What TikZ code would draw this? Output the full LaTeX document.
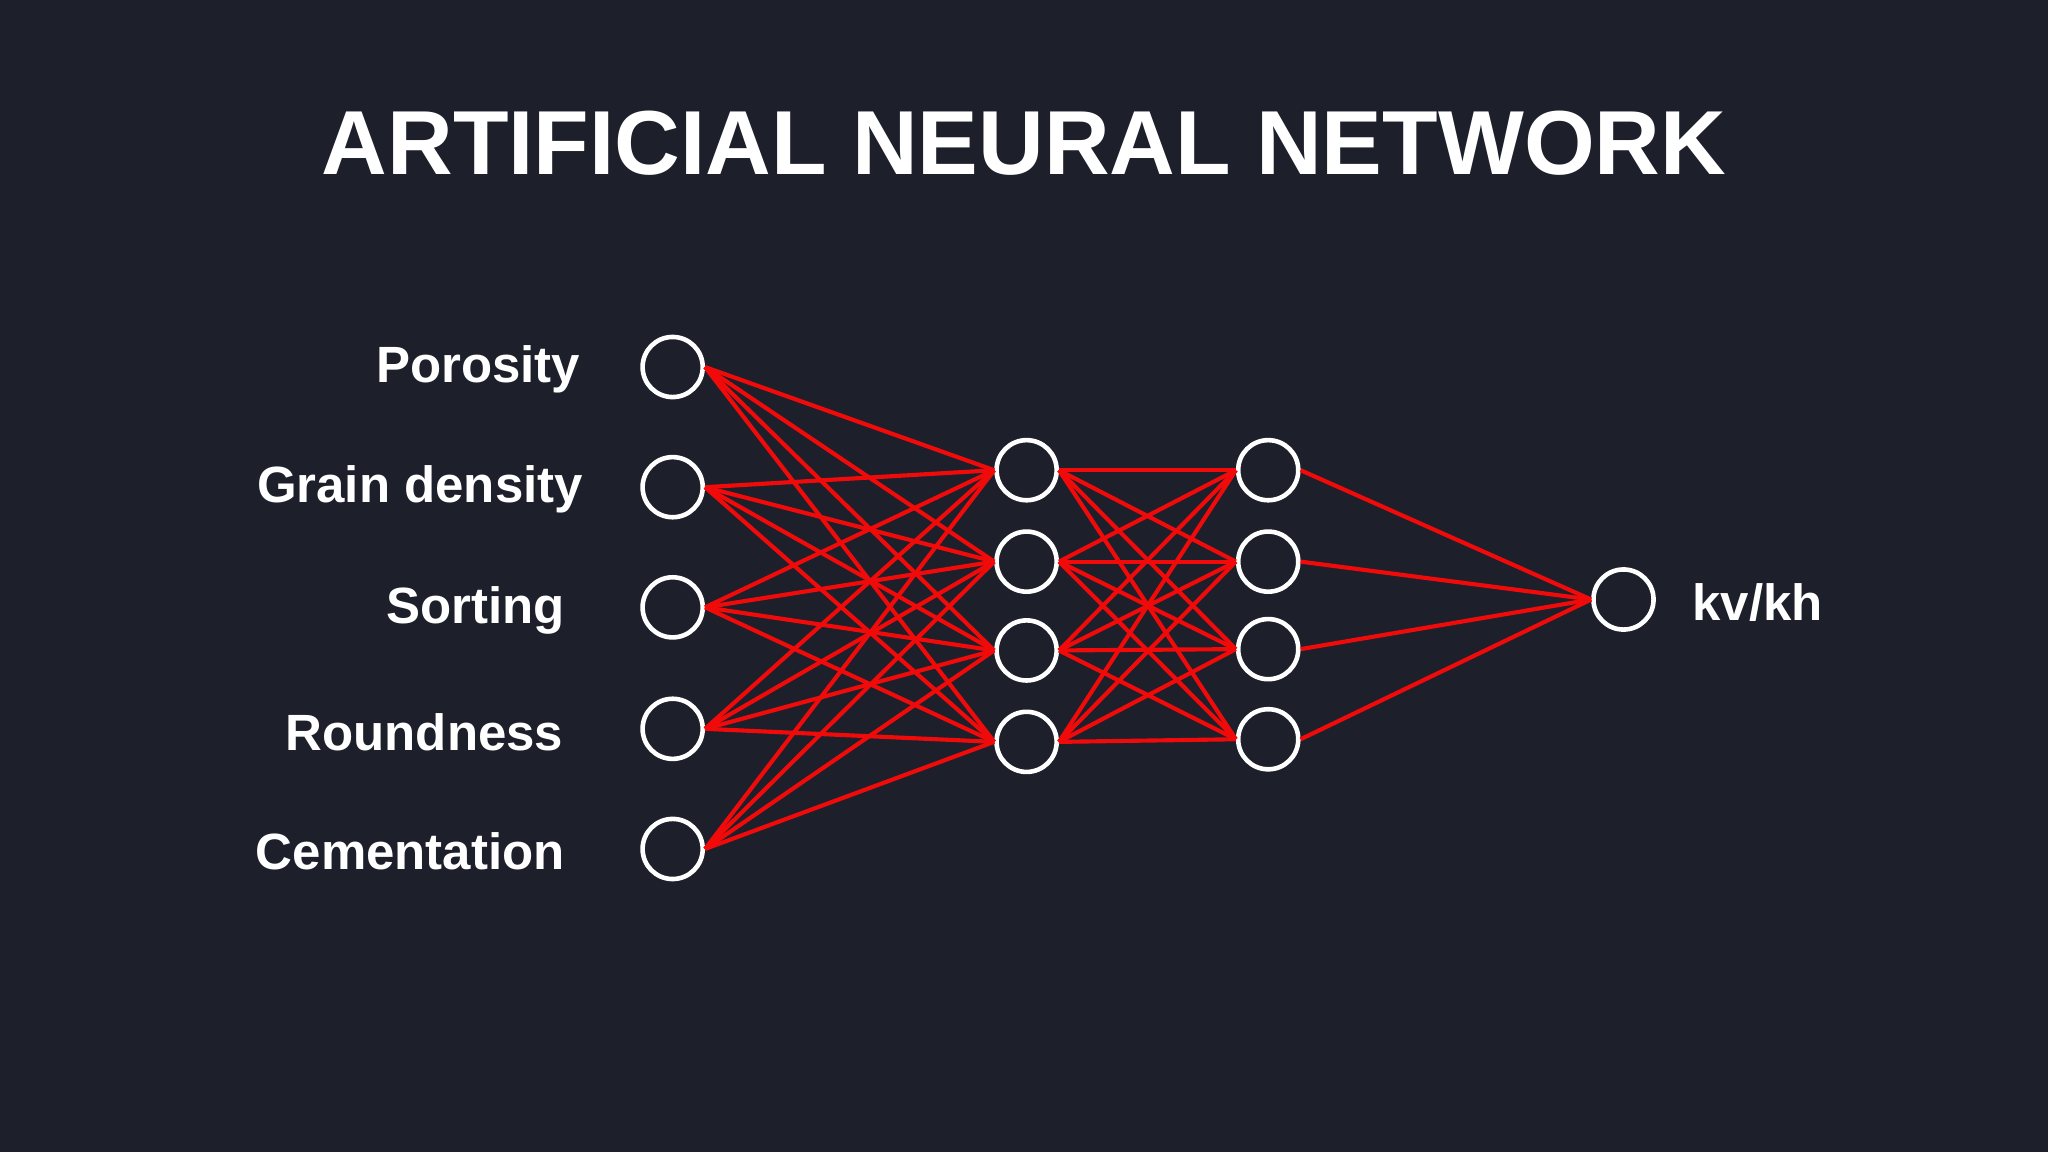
\documentclass[tikz,border=0pt]{standalone}
\usepackage{fontspec}
\setmainfont{Liberation Sans}
\definecolor{bg}{HTML}{1D202B}
\definecolor{edge}{HTML}{F00A0A}
\begin{document}
\begin{tikzpicture}[x=0.01cm,y=-0.01cm,
  neuron/.style={circle,draw=white,line width=1pt,minimum size=0.46cm,inner sep=0pt},
  conn/.style={draw=edge,line width=0.9pt},
  lbl/.style={text=white,inner sep=0pt,font=\fontsize{11.1pt}{12pt}\selectfont\bfseries}]
\fill[bg] (0,0) rectangle (1568,882);
\useasboundingbox (0,0) rectangle (1568,882);
\node[text=white,font=\fontsize{19.8pt}{22pt}\selectfont\bfseries] (title) at (784,110) {ARTIFICIAL NEURAL NETWORK};
\foreach \i/\y in {1/281,2/373,3/465,4/558,5/650} \node[neuron] (i\i) at (515,\y) {};
\foreach \i/\y in {1/360,2/430,3/498,4/568} \node[neuron] (a\i) at (786,\y) {};
\foreach \i/\y in {1/360,2/430,3/497,4/566} \node[neuron] (b\i) at (971,\y) {};
\node[neuron] (o) at (1243,459) {};
\foreach \i in {1,...,5} \foreach \j in {1,...,4} \draw[conn] (i\i.east) -- (a\j.west);
\foreach \i in {1,...,4} \foreach \j in {1,...,4} \draw[conn] (a\i.east) -- (b\j.west);
\foreach \i in {1,...,4} \draw[conn] (b\i.east) -- (o.west);
\node[lbl,anchor=east] (l1) at (445,283) {Porosity};
\node[lbl,anchor=east] (l2) at (447,375) {Grain density};
\node[lbl,anchor=east] (l3) at (433,467) {Sorting};
\node[lbl,anchor=east] (l4) at (432,561) {Roundness};
\node[lbl,anchor=east] (l5) at (433,652) {Cementation};
\node[lbl,anchor=west] (lo) at (1295,461) {kv/kh};
\end{tikzpicture}
\end{document}
